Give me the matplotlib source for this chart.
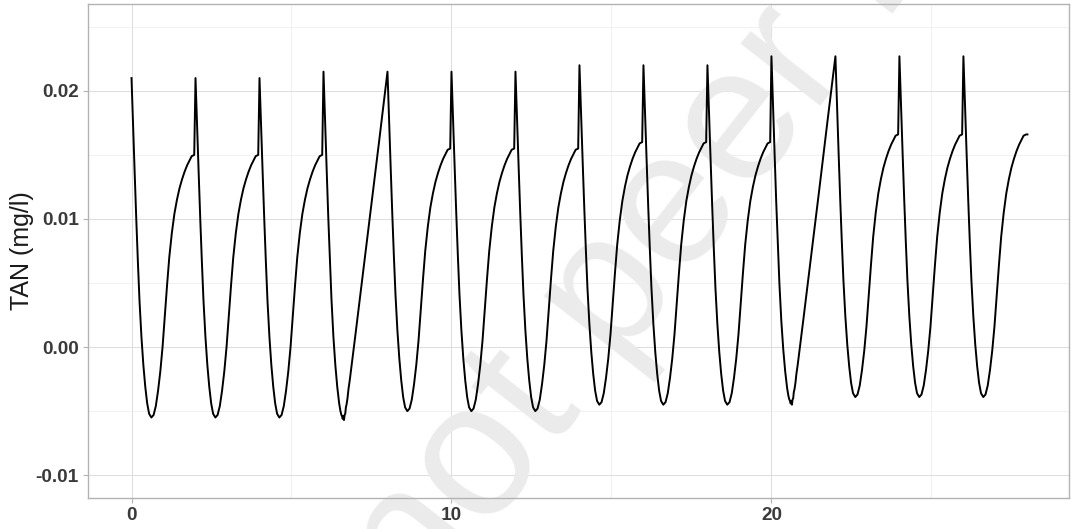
import matplotlib
matplotlib.use("Agg")
import matplotlib.pyplot as plt
from matplotlib.ticker import FixedLocator, FixedFormatter

# ---- data (TAN in mg/l vs. day) ----
# days since dosing inside a regular 2-day cycle (plateau then new dose)
cycle_offsets_a = [0.00, 0.05, 0.10, 0.15, 0.20, 0.25, 0.31, 0.37, 0.43, 0.49,
                   0.55, 0.62, 0.69, 0.76, 0.83, 0.90, 0.97, 1.04, 1.11, 1.18,
                   1.26, 1.34, 1.42, 1.50, 1.58, 1.66, 1.74, 1.82, 1.88, 1.96]
# cycles starting on days 0, 2, 4
tan_cycles_d0_4 = [0.0210, 0.0172, 0.0135, 0.0099, 0.0066, 0.0036, 0.0008, -0.0014, -0.0031, -0.0044,
                   -0.0052, -0.0055, -0.0053, -0.0046, -0.0034, -0.0019, 0.0000, 0.0024, 0.0048, 0.0070,
                   0.0089, 0.0104, 0.0115, 0.0124, 0.0131, 0.0137, 0.0142, 0.0146, 0.0149, 0.0150]
# cycles starting on days 8, 10, 12
tan_cycles_d8_12 = [0.0215, 0.0177, 0.0140, 0.0104, 0.0071, 0.0041, 0.0013, -0.0009, -0.0026, -0.0039,
                    -0.0047, -0.0050, -0.0048, -0.0041, -0.0029, -0.0014, 0.0005, 0.0029, 0.0053, 0.0075,
                    0.0094, 0.0109, 0.0120, 0.0129, 0.0136, 0.0142, 0.0147, 0.0151, 0.0154, 0.0155]
# cycles starting on days 14, 16, 18
tan_cycles_d14_18 = [0.0220, 0.0182, 0.0145, 0.0109, 0.0076, 0.0046, 0.0018, -0.0004, -0.0021, -0.0034,
                     -0.0042, -0.0045, -0.0043, -0.0036, -0.0024, -0.0009, 0.0010, 0.0034, 0.0058, 0.0080,
                     0.0099, 0.0114, 0.0125, 0.0134, 0.0141, 0.0147, 0.0152, 0.0156, 0.0159, 0.0160]
# cycles starting on days 22, 24, 26
tan_cycles_d22_26 = [0.0227, 0.0188, 0.0151, 0.0115, 0.0082, 0.0052, 0.0024, 0.0002, -0.0015, -0.0028,
                     -0.0036, -0.0039, -0.0037, -0.0030, -0.0018, -0.0003, 0.0016, 0.0040, 0.0064, 0.0086,
                     0.0105, 0.0120, 0.0131, 0.0140, 0.0147, 0.0153, 0.0158, 0.0162, 0.0165, 0.0166]

# cycles with a straight rise (days 6 and 20), noisy minimum
cycle_offsets_b = [0.00, 0.05, 0.10, 0.15, 0.20, 0.25, 0.31, 0.37, 0.43, 0.49,
                   0.53, 0.56, 0.58, 0.60, 0.62, 0.64, 0.66, 0.68, 0.70, 0.72,
                   0.75, 0.78, 0.82, 0.90, 1.00, 1.25, 1.50, 1.75]
tan_cycle_d6 = [0.0215, 0.0176, 0.0138, 0.0101, 0.0068, 0.0037, 0.0008, -0.0014, -0.0031, -0.0044,
                -0.0050, -0.0053, -0.0054, -0.0056, -0.0054, -0.0057, -0.0053, -0.0052, -0.0047, -0.0045,
                -0.0040, -0.0033, -0.0026, -0.0010, 0.0010, 0.0061, 0.0112, 0.0163]
tan_cycle_d20 = [0.0227, 0.0188, 0.0150, 0.0113, 0.0080, 0.0049, 0.0020, -0.0002, -0.0019, -0.0032,
                 -0.0038, -0.0041, -0.0042, -0.0044, -0.0042, -0.0045, -0.0041, -0.0040, -0.0035, -0.0033,
                 -0.0028, -0.0021, -0.0014, 0.0002, 0.0022, 0.0073, 0.0124, 0.0176]

final_day = [28.0]
final_tan = [0.0166]

cycle_starts = [0, 2, 4, 6, 8, 10, 12, 14, 16, 18, 20, 22, 24, 26]
cycle_values = [tan_cycles_d0_4, tan_cycles_d0_4, tan_cycles_d0_4, tan_cycle_d6,
                tan_cycles_d8_12, tan_cycles_d8_12, tan_cycles_d8_12,
                tan_cycles_d14_18, tan_cycles_d14_18, tan_cycles_d14_18, tan_cycle_d20,
                tan_cycles_d22_26, tan_cycles_d22_26, tan_cycles_d22_26]

x_ticks = [0, 10, 20]
x_tick_labels = ["0", "10", "20"]
y_ticks = [-0.01, 0.00, 0.01, 0.02]
y_tick_labels = ["-0.01", "0.00", "0.01", "0.02"]

days, tan = [], []
for start, vals in zip(cycle_starts, cycle_values):
    offs = cycle_offsets_a if len(vals) == len(cycle_offsets_a) else cycle_offsets_b
    days += [start + o for o in offs]
    tan += vals
days += final_day
tan += final_tan

# ---- figure ----
W, H = 1071, 529
fig = plt.figure(figsize=(W / 100, H / 100), dpi=100)
L, R, T, B = 88, 1069, 4.4, 497.6
ax = fig.add_axes([L / W, (H - B) / H, (R - L) / W, (B - T) / H])

ax.set_xlim(-1.36, 29.3)
ax.set_ylim(-0.01175, 0.02675)

ax.xaxis.set_major_locator(FixedLocator(x_ticks))
ax.xaxis.set_major_formatter(FixedFormatter(x_tick_labels))
ax.yaxis.set_major_locator(FixedLocator(y_ticks))
ax.yaxis.set_major_formatter(FixedFormatter(y_tick_labels))
ax.xaxis.set_minor_locator(FixedLocator([5, 15, 25]))
ax.yaxis.set_minor_locator(FixedLocator([-0.005, 0.005, 0.015, 0.025]))

ax.grid(which="major", color="#dedede", linewidth=0.75, zorder=0)
ax.grid(which="minor", color="#ececec", linewidth=0.5, zorder=0)
ax.set_axisbelow(True)

for s in ax.spines.values():
    s.set_color("#b3b3b3")
    s.set_linewidth(1.0)

ax.tick_params(which="major", length=3.5, width=0.8, color="#b3b3b3",
               labelsize=13.7, labelcolor="#3a3a3a", pad=3)
ax.tick_params(which="minor", length=0)
for lab in ax.get_xticklabels() + ax.get_yticklabels():
    lab.set_fontweight("bold")
    lab.set_family(["Liberation Sans", "DejaVu Sans"])

ax.set_ylabel("TAN (mg/l)", fontsize=18, color="#1a1a1a",
              family=["Liberation Sans", "DejaVu Sans"], labelpad=1)

# watermark (under tick labels and the line)
ax.text(0.392, -0.17, "not peer reviewed", rotation=52, rotation_mode="anchor",
        ha="left", va="baseline", fontsize=138, color="#ebebeb",
        family=["Liberation Sans", "DejaVu Sans"], zorder=1.5,
        transform=fig.transFigure, clip_on=False)

ax.plot(days, tan, color="black", linewidth=1.4, zorder=3)

fig.savefig("out.png", dpi=100)
